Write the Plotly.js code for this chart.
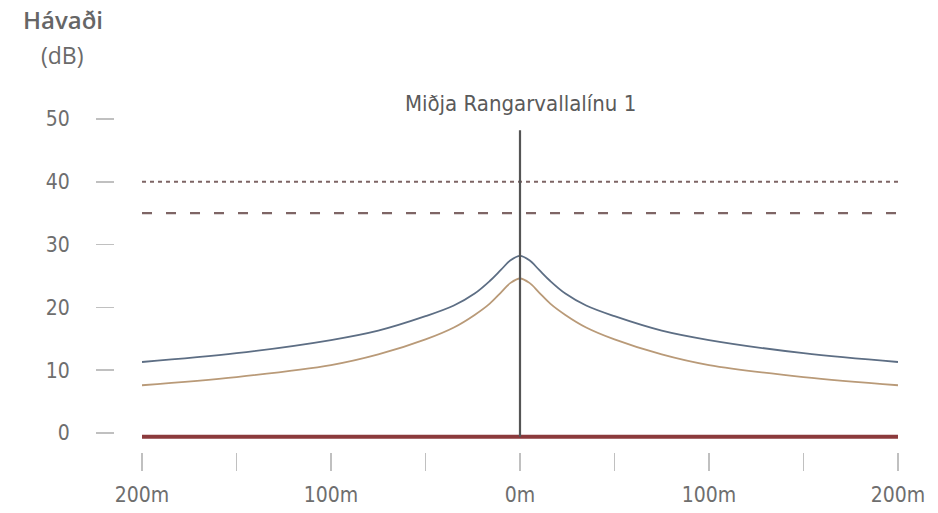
<!DOCTYPE html>
<html>
<head>
<meta charset="utf-8">
<script src="https://cdn.plot.ly/plotly-3.0.1.min.js"></script>
<style>
html,body{margin:0;padding:0;background:#fff;}
#chart{width:938px;height:513px;}
.xtick text, .ytick text, .annotation[data-index="2"] text { font-stretch: condensed !important; }
</style>
</head>
<body>
<div id="chart"></div>
<script>
// Distance from the centre line (m); negative = left side
const distance = [-200,-150,-100,-75,-50,-35,-24,-16,-10,-5,0,5,10,16,24,35,50,75,100,150,200];
const noiseBlue = [11.3,12.7,14.8,16.3,18.6,20.3,22.2,24.2,26.0,27.5,28.2,27.5,26.0,24.2,22.2,20.3,18.6,16.3,14.8,12.7,11.3];
const noiseOrange = [7.6,8.9,10.8,12.5,14.9,16.8,18.8,20.6,22.4,23.9,24.6,23.9,22.4,20.6,18.8,16.8,14.9,12.5,10.8,8.9,7.6];
const limitX = [-200, 200];
const limitDotted = [40, 40];
const limitDashed = [35, 35];
const groundLine = [-0.6, -0.6];
const centreX = [0, 0];
const centreY = [-0.6, 48.2];
const xTickVals = [-200,-150,-100,-50,0,50,100,150,200];
const xTickText = ["200m","","100m","","0m","","100m","","200m"];
const yTickVals = [0,10,20,30,40,50];
const yTickText = ["0","10","20","30","40","50"];
const yTitleLine1 = "Hávaði";
const yTitleLine2 = "(dB)";
const centreLabel = "Miðja Rangarvallalínu 1";

const condensed = "'DejaVu Sans', sans-serif";
const titleFont = "'Open Sans', 'DejaVu Sans', sans-serif";

const traces = [
  {x: limitX, y: limitDotted, mode: 'lines', line: {color: '#7e6565', width: 2.2, dash: '4px,4px'}, hoverinfo: 'skip'},
  {x: limitX, y: limitDashed, mode: 'lines', line: {color: '#7e6565', width: 2.2, dash: '10px,14px'}, hoverinfo: 'skip'},
  {x: distance, y: noiseOrange, mode: 'lines', line: {color: '#b99a78', width: 1.8, shape: 'spline', smoothing: 1}},
  {x: distance, y: noiseBlue, mode: 'lines', line: {color: '#5d6e84', width: 1.8, shape: 'spline', smoothing: 1}},
  {x: limitX, y: groundLine, mode: 'lines', line: {color: '#8b3a3c', width: 4}},
  {x: centreX, y: centreY, mode: 'lines', line: {color: '#555555', width: 2.2}}
];

const layout = {
  width: 938, height: 513,
  margin: {l: 115, r: 13, t: 100, b: 61},
  paper_bgcolor: '#ffffff', plot_bgcolor: '#ffffff',
  showlegend: false,
  xaxis: {
    range: [-214.29, 214.29], showgrid: false, zeroline: false, showline: false,
    tickmode: 'array', tickvals: xTickVals, ticktext: xTickText,
    ticks: 'outside', ticklen: 18, tickwidth: 1.5, tickcolor: '#c0c0c0',
    ticklabelstandoff: 6,
    tickfont: {family: condensed, size: 21, color: '#6e6e6e'}
  },
  yaxis: {
    range: [-3.03, 53.02], showgrid: false, zeroline: false, showline: false,
    tickmode: 'array', tickvals: yTickVals, ticktext: yTickText,
    ticks: 'outside', ticklen: 18, tickwidth: 1.5, tickcolor: '#c0c0c0',
    ticklabelstandoff: 22,
    tickfont: {family: condensed, size: 21, color: '#6e6e6e'}
  },
  annotations: [
    {text: yTitleLine1, xref: 'paper', yref: 'paper', x: -0.0642, y: 1.228, xanchor: 'center', yanchor: 'middle', showarrow: false,
     font: {family: titleFont, size: 24, color: '#666666', weight: 600}},
    {text: yTitleLine2, xref: 'paper', yref: 'paper', x: -0.0642, y: 1.128, xanchor: 'center', yanchor: 'middle', showarrow: false,
     font: {family: titleFont, size: 23, color: '#6a6a6a', weight: 400}},
    {text: centreLabel, x: 0, y: 52.5, xref: 'x', yref: 'y', xanchor: 'center', yanchor: 'middle', showarrow: false,
     font: {family: condensed, size: 22, color: '#5a5a5a'}}
  ]
};

Plotly.newPlot('chart', traces, layout, {displayModeBar: false, staticPlot: true});
</script>
</body>
</html>
